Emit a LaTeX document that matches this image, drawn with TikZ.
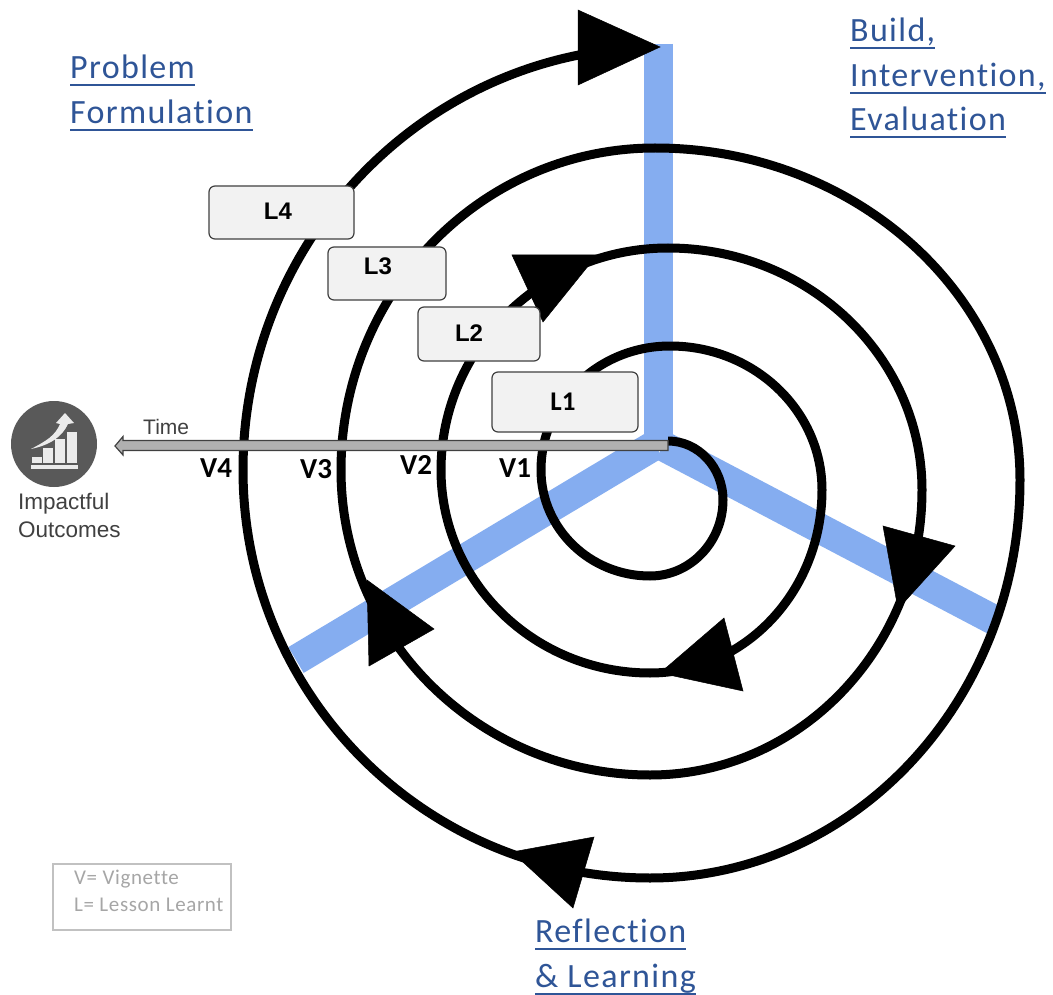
\documentclass[tikz,border=0pt]{standalone}
\usepackage{fontspec}
\usetikzlibrary{calc}
\setmainfont{Liberation Sans}
\newfontfamily\hdfont[LetterSpace=4,Ligatures=NoCommon]{Carlito}
\newfontfamily\lgfont[LetterSpace=3,Ligatures=NoCommon]{Carlito}
\newfontfamily\calfont{Carlito}
\definecolor{armblue}{HTML}{85ADF0}
\definecolor{headblue}{HTML}{2F5597}
\definecolor{boxfill}{HTML}{F2F2F2}
\definecolor{boxline}{HTML}{404040}
\definecolor{icongrey}{HTML}{595959}
\definecolor{shaftgrey}{HTML}{B0B0B0}
\definecolor{legendgrey}{HTML}{A6A6A6}
\newcommand\hdline[1]{\setbox0\hbox{#1}\rlap{\rule[-7.5pt]{\wd0}{2.2pt}}\box0}
\newcommand\boxlabel[3]{\raisebox{#2pt}[0pt][0pt]{\makebox[0pt]{\kern#3pt #1}}}
\def\hv#1#2{.. controls ($(#1)!.5523!(#2|-#1)$) and ($(#2)!.5523!(#2|-#1)$) .. (#2)}
\def\vh#1#2{.. controls ($(#1)!.5523!(#1|-#2)$) and ($(#2)!.5523!(#1|-#2)$) .. (#2)}
\tikzset{
  arm/.style={line width=#1, draw=armblue},
  spiral/.style={line width=9pt, draw=black, line cap=butt, line join=round},
  headtri/.style={fill=black, draw=black, line width=0.5pt},
  lessonbox/.style={draw=boxline, fill=boxfill, line width=1.2pt, rounded corners=6pt, inner sep=0pt},
  heading/.style={text=headblue, anchor=north west, align=left, inner sep=0pt,
    font=\fontsize{34}{44.5}\selectfont\hdfont},
  vlabel/.style={anchor=base west, inner sep=0pt, font=\fontsize{29}{29}\selectfont\calfont\bfseries},
}
\begin{document}
\begin{tikzpicture}[x=1pt,y=-1pt]
\useasboundingbox (0,0) rectangle (1053,995);
\fill[white] (0,0) rectangle (1053,995);
% blue arms
\coordinate (hub) at (658,448);
\coordinate (armtop) at (658,44);
\coordinate (armright) at (994,620);
\coordinate (armrightin) at (663,446);
\coordinate (armleft) at (296,660);
\coordinate (armleftin) at (655,445);
\draw[arm=29pt] (armtop) -- (hub);
\draw[arm=30pt] (armright) -- (armrightin);
\draw[arm=30pt] (armleft) -- (armleftin);
% spiral
\coordinate (s0) at (668,441);
\coordinate (s1) at (723,500);
\coordinate (s2) at (650,576);
\coordinate (s3) at (541,470);
\coordinate (s4) at (670,346);
\coordinate (s5) at (822,490);
\coordinate (s6) at (650,673);
\coordinate (s7) at (441,470);
\coordinate (s8) at (668,248);
\coordinate (s9) at (922,490);
\coordinate (s10) at (650,775);
\coordinate (s11) at (341,470);
\coordinate (s12) at (655,148);
\coordinate (s13) at (1020,480);
\coordinate (s14) at (650,878);
\coordinate (s15) at (243,470);
\coordinate (s16) at (592.4,52.5);
\draw[spiral] (s0) \hv{s0}{s1} \vh{s1}{s2} \hv{s2}{s3} \vh{s3}{s4}
  \hv{s4}{s5} \vh{s5}{s6} \hv{s6}{s7} \vh{s7}{s8}
  \hv{s8}{s9} \vh{s9}{s10} \hv{s10}{s11} \vh{s11}{s12}
  \hv{s12}{s13} \vh{s13}{s14} \hv{s14}{s15}
  .. controls (243,259.8) and (394.2,85.4) .. (s16);
% arrowheads
\fill[headtri] (578,10) -- (660,47) -- (578,85) -- cycle;
\fill[headtri] (512,255) -- (597,255) -- (543,322) -- cycle;
\fill[headtri] (883,526) -- (955,546) -- (898,609) -- cycle;
\fill[headtri] (724,618) -- (743,691) -- (660,673) -- cycle;
\fill[headtri] (367,580) -- (434,629) -- (369,666) -- cycle;
\fill[headtri] (594,837) -- (573,908) -- (512,852) -- cycle;
% lesson boxes
\node[lessonbox, minimum width=145pt, minimum height=53pt] (L4) at (281.5,212.5)
  {\boxlabel{\fontsize{24}{24}\selectfont\bfseries L4}{-7.5}{-7}};
\node[lessonbox, minimum width=118pt, minimum height=53pt] (L3) at (387,273.5)
  {\boxlabel{\fontsize{24}{24}\selectfont\bfseries L3}{-1.5}{-18}};
\node[lessonbox, minimum width=122pt, minimum height=54pt] (L2) at (479,334)
  {\boxlabel{\fontsize{24}{24}\selectfont\bfseries L2}{-8}{-20}};
\node[lessonbox, minimum width=146pt, minimum height=60pt] (L1) at (565,402)
  {\boxlabel{\fontsize{27}{27}\selectfont\calfont\bfseries L1}{-8}{-4}};
% time arrow
\coordinate (timestart) at (668,445);
\coordinate (timetip) at (115,446);
\draw[boxline, fill=shaftgrey, line width=1.2pt]
  (timestart |- 0,440.5) -- (123,440.5) -- (123,436.5) -- (timetip) -- (123,455) -- (123,450.5) -- (timestart |- 0,450.5) -- cycle;
\node[anchor=base west, inner sep=0pt, text=boxline, font=\fontsize{21}{21}\selectfont] (time) at (143,434) {Time};
% V labels
\node[vlabel] (V4) at (200,477) {V4};
\node[vlabel] (V3) at (300,478) {V3};
\node[vlabel] (V2) at (400,474) {V2};
\node[vlabel] (V1) at (499,477) {V1};
% icon
\node[circle, fill=icongrey, minimum size=86pt, inner sep=0pt] (icon) at (54,444) {};
\fill[white!92!black] (31,465) rectangle (78,469);
\fill[white!92!black] (32,457) rectangle (42,463);
\fill[white!92!black] (43,448) rectangle (53,463);
\fill[white!92!black] (55,439) rectangle (65,463);
\fill[white!92!black] (67,432) rectangle (77,463);
\fill[white!92!black] (31,449) .. controls (46,441) and (55,436) .. (60,424)
  -- (56,423) -- (65,413) -- (74,423) -- (68,424)
  .. controls (62,437) and (50,445) .. (31,449) -- cycle;
\node[anchor=north west, inner sep=0pt, align=left, text=boxline, font=\fontsize{22.5}{28}\selectfont] (outcomes) at (18,493)
  {Impactful\\Outcomes};
% headings
\node[heading] (problem) at (70,55) {\hdline{Problem}\\\hdline{Formulation}};
\node[heading] (build) at (850,18) {\hdline{Build,}\\\hdline{Intervention,}\\\hdline{Evaluation}};
\node[heading] (reflection) at (535,919) {\hdline{Reflection}\\\hdline{\& Learning}};
% legend
\node[draw=legendgrey!70!white, line width=1.1pt, minimum width=178pt, minimum height=66pt, inner sep=0pt] (legendbox) at (142,897) {};
\node[anchor=north west, inner sep=0pt, align=left, text=legendgrey, font=\fontsize{21}{27}\selectfont\lgfont] (legend) at (74,870)
  {V= Vignette\\L= Lesson Learnt};
\end{tikzpicture}
\end{document}
